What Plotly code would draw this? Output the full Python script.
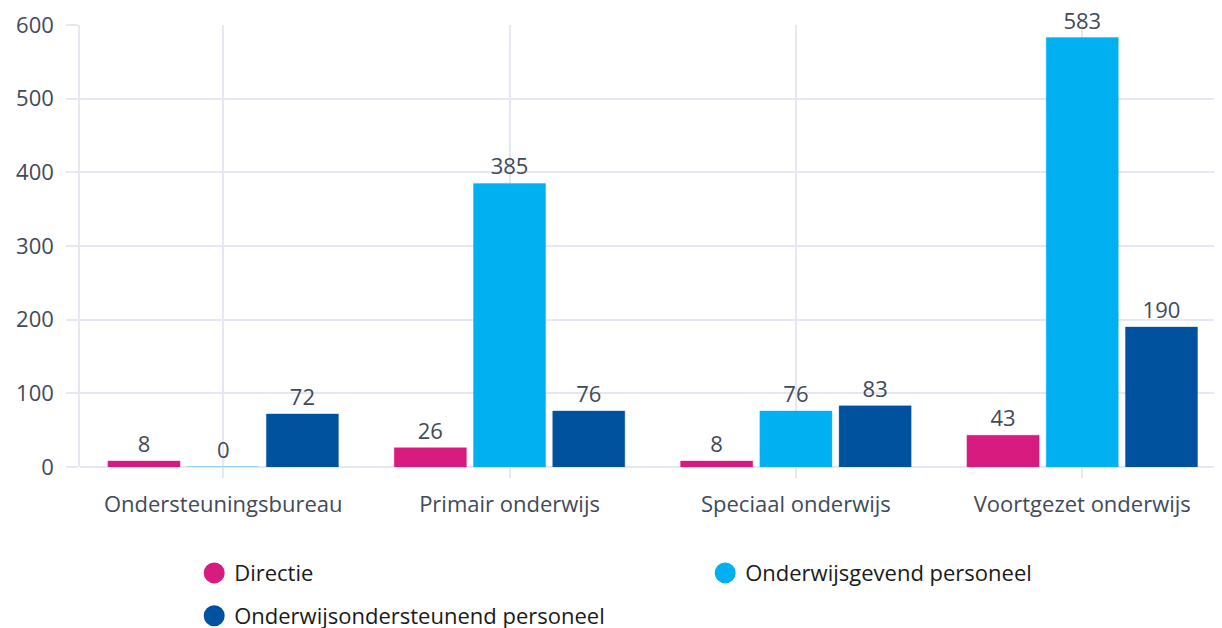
import plotly.graph_objects as go

categories = ["Ondersteuningsbureau", "Primair onderwijs", "Speciaal onderwijs", "Voortgezet onderwijs"]
series_names = ["Directie", "Onderwijsgevend personeel", "Onderwijsondersteunend personeel"]
directie = [8, 26, 8, 43]
onderwijsgevend = [0, 385, 76, 583]
ondersteunend = [72, 76, 83, 190]
y_ticks = [0, 100, 200, 300, 400, 500, 600]

colors = ["#d81b7f", "#00b0f0", "#00529f"]
line_colors = ["rgba(216,27,127,0.45)", "rgba(0,176,240,0.35)", "rgba(0,82,159,0.35)"]
values = [directie, onderwijsgevend, ondersteunend]
legend_ids = ["legend", "legend", "legend2"]

FONT = "Open Sans"
TEXT_COL = "#3f4a5a"
GRID = "#e5e8f3"
FS = 22

fig = go.Figure()
for name, vals, c, lc in zip(series_names, values, colors, line_colors):
    fig.add_trace(go.Bar(
        x=categories, y=vals, name=name, showlegend=False,
        marker=dict(color=c, line=dict(color=lc, width=1)),
        text=[str(v) for v in vals], textposition="outside",
        textfont=dict(family=FONT, size=FS, color=TEXT_COL),
        cliponaxis=False,
    ))
# legend entries with circular symbols
for name, c, lid in zip(series_names, colors, legend_ids):
    fig.add_trace(go.Scatter(
        x=[None], y=[None], mode="markers", name=name, legend=lid,
        marker=dict(symbol="circle", size=16, color=c, line=dict(color=c, width=5)),
    ))

legend_common = dict(
    orientation="h", xanchor="left", yanchor="middle",
    entrywidth=466, entrywidthmode="pixels",
    font=dict(family=FONT, size=FS, color="#1a1a1a"),
    itemsizing="trace", bgcolor="rgba(0,0,0,0)",
)

fig.update_layout(
    width=1214, height=620,
    paper_bgcolor="white", plot_bgcolor="white",
    margin=dict(l=72, r=0, t=17, b=161, autoexpand=False),
    barmode="group", bargap=0.17, bargroupgap=0.09,
    font=dict(family=FONT, size=FS, color=TEXT_COL),
    legend=dict(x=0.1, y=-0.24, **legend_common),
    legend2=dict(x=0.1, y=-0.337, **legend_common),
    xaxis=dict(
        type="category", range=[-0.5, 3.488], automargin=False,
        showgrid=True, gridcolor=GRID, gridwidth=1.5,
        ticks="outside", ticklen=10, tickcolor=GRID, tickwidth=1.5,
        ticklabelstandoff=8,
        tickfont=dict(family=FONT, size=FS, color=TEXT_COL),
        showline=False, zeroline=False,
    ),
    yaxis=dict(
        range=[0, 600], tickvals=y_ticks, automargin=False,
        showgrid=True, gridcolor=GRID, gridwidth=1.5,
        zeroline=True, zerolinecolor=GRID, zerolinewidth=1.5,
        showline=True, linecolor=GRID, linewidth=1.5,
        ticks="outside", ticklen=12, tickcolor=GRID, tickwidth=1.5,
        ticklabelstandoff=8,
        tickfont=dict(family=FONT, size=FS, color=TEXT_COL),
    ),
)

fig.write_html("out.html")
